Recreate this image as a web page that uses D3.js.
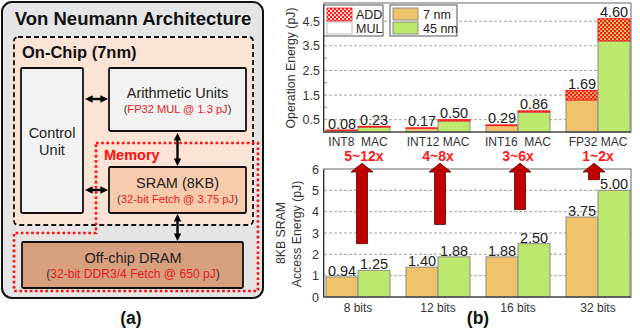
<!DOCTYPE html>
<html><head><meta charset="utf-8">
<script src="https://cdn.jsdelivr.net/npm/d3@7"></script>
<style>html,body{margin:0;padding:0;background:#fff;} svg{display:block;}</style>
</head><body>
<script>
// ---------- data ----------
const opCats = ["INT8  MAC", "INT12 MAC", "INT16  MAC", "FP32 MAC"];
const seriesNames = ["7 nm", "45 nm"];
const op7Total = [0.08, 0.17, 0.29, 1.69];
const op45Total = [0.23, 0.50, 0.86, 4.60];
const op7Add = [0.01, 0.02, 0.03, 0.39];
const op45Add = [0.03, 0.05, 0.05, 0.90];
const gainLabels = ["5~12x", "4~8x", "3~6x", "1~2x"];
const memCats = ["8 bits", "12 bits", "16 bits", "32 bits"];
const mem7 = [0.94, 1.40, 1.88, 3.75];
const mem45 = [1.25, 1.88, 2.50, 5.00];
const opTicks = [0.5, 1.5, 2.5, 3.5, 4.5];
const opMinorTicks = [1, 2, 3, 4, 5];
const memTicks = [0, 1, 2, 3, 4, 5, 6];
const memGrid = [1, 2, 3, 4, 5];
const arrowBase = [2.5, 3.4, 4.1, 5.5];

// ---------- setup ----------
const W = 640, H = 329;
const FONT = "'Liberation Sans', Arial, sans-serif";
const svg = d3.select("body").append("svg").attr("width", W).attr("height", H)
  .style("font-family", FONT);
const defs = svg.append("defs");
const C7 = "#efc36b", C45 = "#bde86e", RED = "#ff1a1a", TXTRED = "#e8191b";

function makePattern(id, bg) {
  const p = defs.append("pattern").attr("id", id).attr("width", 4).attr("height", 4)
    .attr("patternUnits", "userSpaceOnUse");
  p.append("rect").attr("width", 4).attr("height", 4).attr("fill", RED);
  p.append("rect").attr("x", 0.2).attr("y", 0.2).attr("width", 1.8).attr("height", 1.8).attr("fill", bg);
  p.append("rect").attr("x", 2.2).attr("y", 2.2).attr("width", 1.8).attr("height", 1.8).attr("fill", bg);
}
makePattern("addW", "#ffffff");
makePattern("add7", C7);
makePattern("add45", C45);
const arrowDefs = defs.append("marker").attr("id", "ah").attr("viewBox", "0 0 10 10")
  .attr("refX", 6).attr("refY", 5).attr("markerWidth", 3.2).attr("markerHeight", 3.2)
  .attr("orient", "auto-start-reverse").attr("markerUnits", "strokeWidth");
arrowDefs.append("path").attr("d", "M0,0 L10,5 L0,10 z").attr("fill", "#000");

// ---------- (a) diagram ----------
const A = svg.append("g");
A.append("rect").attr("x", 2).attr("y", 2).attr("width", 261).attr("height", 296).attr("rx", 10)
  .attr("fill", "#e5e5e5").attr("stroke", "#111").attr("stroke-width", 2);
A.append("text").attr("x", 133).attr("y", 25).attr("text-anchor", "middle")
  .attr("font-size", 18.5).attr("font-weight", "bold").attr("fill", "#111").text("Von Neumann Architecture");
A.append("rect").attr("x", 14).attr("y", 37).attr("width", 239).attr("height", 188).attr("rx", 4)
  .attr("fill", "#fbe3d6").attr("stroke", "#111").attr("stroke-width", 1.8).attr("stroke-dasharray", "5,3");
A.append("text").attr("x", 22).attr("y", 58).attr("font-size", 16.5).attr("font-weight", "bold")
  .attr("fill", "#111").text("On-Chip (7nm)");
// Control unit
A.append("rect").attr("x", 21).attr("y", 68).attr("width", 62).attr("height", 145).attr("rx", 1.5)
  .attr("fill", "#f2f2f2").attr("stroke", "#111").attr("stroke-width", 1.8);
A.append("text").attr("x", 52).attr("y", 138).attr("text-anchor", "middle").attr("font-size", 14.5).attr("fill", "#222").text("Control");
A.append("text").attr("x", 52).attr("y", 155).attr("text-anchor", "middle").attr("font-size", 14.5).attr("fill", "#222").text("Unit");
// Arithmetic units
A.append("rect").attr("x", 109).attr("y", 68).attr("width", 137).attr("height", 63).attr("rx", 1.5)
  .attr("fill", "#f2f2f2").attr("stroke", "#111").attr("stroke-width", 1.8);
A.append("text").attr("x", 177.5).attr("y", 98).attr("text-anchor", "middle").attr("font-size", 14.5).attr("fill", "#222").text("Arithmetic Units");
function redLine(x, y, size, inner) {
  const t = A.append("text").attr("x", x).attr("y", y).attr("text-anchor", "middle").attr("font-size", size).attr("fill", "#333");
  t.append("tspan").text("(");
  t.append("tspan").attr("fill", TXTRED).text(inner);
  t.append("tspan").text(")");
}
redLine(177.5, 112.5, 11.1, "FP32 MUL @ 1.3 pJ");
// memory dotted region
A.append("path").attr("d", "M96,143 L258,143 L258,291 L14,291 L14,233 L96,233 Z")
  .attr("fill", "none").attr("stroke", "#ff1010").attr("stroke-width", 2.6).attr("stroke-dasharray", "2.6,2.6");
A.append("text").attr("x", 104).attr("y", 160).attr("font-size", 14.5).attr("font-weight", "bold").attr("fill", "#ff1010").text("Memory");
// SRAM
A.append("rect").attr("x", 109).attr("y", 167).attr("width", 137).attr("height", 46).attr("rx", 1.5)
  .attr("fill", "#f8cbad").attr("stroke", "#111").attr("stroke-width", 1.8);
A.append("text").attr("x", 177.5).attr("y", 188).attr("text-anchor", "middle").attr("font-size", 14.5).attr("fill", "#222").text("SRAM (8KB)");
redLine(177.5, 202.5, 11.2, "32-bit Fetch @ 3.75 pJ");
// DRAM
A.append("rect").attr("x", 22).attr("y", 242).attr("width", 221).attr("height", 46).attr("rx", 1.5)
  .attr("fill", "#d6a07e").attr("stroke", "#111").attr("stroke-width", 1.8);
A.append("text").attr("x", 133).attr("y", 263).attr("text-anchor", "middle").attr("font-size", 14.5).attr("fill", "#222").text("Off-chip DRAM");
redLine(133, 278, 12.1, "32-bit DDR3/4 Fetch @ 650 pJ");
// double arrows
function dArrow(x1, y1, x2, y2) {
  A.append("line").attr("x1", x1).attr("y1", y1).attr("x2", x2).attr("y2", y2)
    .attr("stroke", "#000").attr("stroke-width", 2.4)
    .attr("marker-start", "url(#ah)").attr("marker-end", "url(#ah)");
}
dArrow(88, 99, 105, 99);
dArrow(88, 190, 105, 190);
dArrow(177.5, 136, 177.5, 163);
dArrow(177.5, 217, 177.5, 238);
svg.append("text").attr("x", 131).attr("y", 324).attr("text-anchor", "middle").attr("font-size", 17.5)
  .attr("font-weight", "bold").attr("fill", "#111").text("(a)");

// ---------- (b) top chart: operation energy ----------
const L = 324, R = 631;
const xg = d3.scaleBand().domain(opCats).range([L, R + 1]).paddingInner(0.2).paddingOuter(0.025);
const xs = d3.scaleBand().domain(seriesNames).range([0, xg.bandwidth()]);
const yT = d3.scaleLinear().domain([0, 5.2]).range([132, 4]);
const T = svg.append("g");
// grid
T.selectAll("line.grid").data(opTicks).join("line").attr("class", "grid")
  .attr("x1", L).attr("x2", R).attr("y1", d => yT(d)).attr("y2", d => yT(d))
  .attr("stroke", "#a0a0a0").attr("stroke-width", 1).attr("stroke-dasharray", "3,2");
T.selectAll("line.minor").data(opMinorTicks).join("line").attr("class", "minor")
  .attr("x1", L).attr("x2", L + 3).attr("y1", d => yT(d)).attr("y2", d => yT(d))
  .attr("stroke", "#888");
// bars
const topRows = [];
opCats.forEach((c, i) => {
  topRows.push({ c, s: "7 nm", total: op7Total[i], add: op7Add[i], col: C7, pat: "add7" });
  topRows.push({ c, s: "45 nm", total: op45Total[i], add: op45Add[i], col: C45, pat: "add45" });
});
const tb = T.selectAll("g.bar").data(topRows).join("g").attr("class", "bar")
  .attr("transform", d => `translate(${xg(d.c) + xs(d.s)},0)`);
tb.append("rect").attr("width", xs.bandwidth()).attr("y", d => yT(d.total - d.add))
  .attr("height", d => yT(0) - yT(d.total - d.add)).attr("fill", d => d.col)
  .attr("stroke", "#8c8c8c").attr("stroke-width", 1);
tb.append("rect").attr("width", xs.bandwidth()).attr("y", d => yT(d.total))
  .attr("height", d => yT(d.total - d.add) - yT(d.total)).attr("fill", d => `url(#${d.pat})`)
  .attr("stroke", RED).attr("stroke-width", 1);
tb.append("text").attr("x", xs.bandwidth() / 2).attr("y", d => yT(d.total) - 1.5)
  .attr("text-anchor", "middle").attr("font-size", 14.5).attr("fill", "#222")
  .text(d => d.total.toFixed(2));
// frame + axes
T.append("rect").attr("x", L).attr("y", 3).attr("width", R - L).attr("height", 129)
  .attr("fill", "none").attr("stroke", "#666").attr("stroke-width", 1);
T.append("line").attr("x1", L).attr("x2", R).attr("y1", 132).attr("y2", 132).attr("stroke", "#333");
const yAxT = T.append("g").attr("transform", `translate(${L - 1},0)`)
  .call(d3.axisLeft(yT).tickValues(opTicks).tickSize(0).tickPadding(3).tickFormat(d3.format(".1f")));
yAxT.select(".domain").attr("stroke", "#333");
yAxT.selectAll("text").attr("font-size", 12.5).attr("font-family", FONT).attr("fill", "#333");
T.append("text").attr("transform", "translate(295,68) rotate(-90)").attr("text-anchor", "middle")
  .attr("font-size", 12.3).attr("fill", "#333").text("Operation Energy (pJ)");
T.selectAll("text.cat").data(opCats).join("text").attr("class", "cat")
  .attr("x", d => xg(d) + xg.bandwidth() / 2).attr("y", 146).attr("text-anchor", "middle")
  .attr("font-size", 12).attr("fill", "#333").style("white-space", "pre").text(d => d);
T.selectAll("text.gain").data(opCats).join("text").attr("class", "gain")
  .attr("x", d => xg(d) + xg.bandwidth() / 2 + (d === opCats[0] ? 6 : 0)).attr("y", 161)
  .attr("text-anchor", "middle").attr("font-size", 14).attr("font-weight", "bold").attr("fill", RED)
  .text((d, i) => gainLabels[i]);
// legends
const lg1 = T.append("g");
lg1.append("rect").attr("x", 324).attr("y", 5).attr("width", 59).attr("height", 31).attr("fill", "#fff").attr("stroke", "#555");
lg1.append("rect").attr("x", 327).attr("y", 8).attr("width", 25).attr("height", 13).attr("fill", "url(#addW)").attr("stroke", RED).attr("stroke-width", 0.8);
lg1.append("rect").attr("x", 327).attr("y", 22).attr("width", 25).attr("height", 12).attr("fill", "#fff").attr("stroke", "#aaa").attr("stroke-width", 0.8);
lg1.append("text").attr("x", 356).attr("y", 19).attr("font-size", 12.5).attr("fill", "#222").text("ADD");
lg1.append("text").attr("x", 356).attr("y", 33).attr("font-size", 12.5).attr("fill", "#222").text("MUL");
const lg2 = T.append("g");
lg2.append("rect").attr("x", 390).attr("y", 5).attr("width", 67).attr("height", 31).attr("fill", "#fff").attr("stroke", "#555");
seriesNames.forEach((s, i) => {
  lg2.append("rect").attr("x", 393).attr("y", 8 + i * 14).attr("width", 25).attr("height", 12)
    .attr("fill", i === 0 ? C7 : C45).attr("stroke", "#8c8c8c");
  lg2.append("text").attr("x", 423).attr("y", 19 + i * 14).attr("font-size", 12.5).attr("fill", "#222").text(s);
});

// ---------- (b) bottom chart: SRAM access energy ----------
const xgB = d3.scaleBand().domain(memCats).range([L, R + 1]).paddingInner(0.2).paddingOuter(0.025);
const yB = d3.scaleLinear().domain([0, 6]).range([297, 169]);
const B = svg.append("g");
B.selectAll("line.grid").data(memGrid).join("line").attr("class", "grid")
  .attr("x1", L).attr("x2", R).attr("y1", d => yB(d)).attr("y2", d => yB(d))
  .attr("stroke", "#a0a0a0").attr("stroke-dasharray", "3,2");
const botRows = [];
memCats.forEach((c, i) => {
  botRows.push({ c, s: "7 nm", v: mem7[i], col: C7 });
  botRows.push({ c, s: "45 nm", v: mem45[i], col: C45 });
});
const bb = B.selectAll("g.bar").data(botRows).join("g").attr("class", "bar")
  .attr("transform", d => `translate(${xgB(d.c) + xs(d.s)},0)`);
bb.append("rect").attr("width", xs.bandwidth()).attr("y", d => yB(d.v))
  .attr("height", d => yB(0) - yB(d.v)).attr("fill", d => d.col).attr("stroke", "#8c8c8c");
bb.append("text").attr("x", xs.bandwidth() / 2).attr("y", d => yB(d.v) - 1)
  .attr("text-anchor", "middle").attr("font-size", 14.5).attr("fill", "#222").text(d => d.v.toFixed(2));
B.append("rect").attr("x", L).attr("y", 169).attr("width", R - L).attr("height", 128)
  .attr("fill", "none").attr("stroke", "#666");
B.append("line").attr("x1", L).attr("x2", R).attr("y1", 297).attr("y2", 297).attr("stroke", "#333");
const yAxB = B.append("g").attr("transform", `translate(${L - 1},0)`)
  .call(d3.axisLeft(yB).tickValues(memTicks).tickSize(0).tickPadding(4).tickFormat(d3.format("d")));
yAxB.select(".domain").attr("stroke", "#333");
yAxB.selectAll("text").attr("font-size", 12.5).attr("font-family", FONT).attr("fill", "#333");
B.append("text").attr("transform", "translate(285,233) rotate(-90)").attr("text-anchor", "middle")
  .attr("font-size", 12.3).attr("fill", "#333").text("8KB SRAM");
B.append("text").attr("transform", "translate(301,234) rotate(-90)").attr("text-anchor", "middle")
  .attr("font-size", 12.3).attr("fill", "#333").text("Access Energy (pJ)");
B.selectAll("text.cat").data(memCats).join("text").attr("class", "cat")
  .attr("x", d => xgB(d) + xgB.bandwidth() / 2).attr("y", 312).attr("text-anchor", "middle")
  .attr("font-size", 12).attr("fill", "#333").text(d => d);
// red arrows
B.selectAll("path.arrow").data(memCats).join("path").attr("class", "arrow")
  .attr("d", (d, i) => {
    const cx = xgB(d) + xgB.bandwidth() / 2 + (i === 0 ? 4 : (i === 3 ? -4 : 2));
    const tip = yB(6.27), hb = yB(5.86), bot = yB(arrowBase[i]);
    return `M${cx},${tip} L${cx + 11},${hb} L${cx + 5.5},${hb} L${cx + 5.5},${bot} L${cx - 5.5},${bot} L${cx - 5.5},${hb} L${cx - 11},${hb} Z`;
  })
  .attr("fill", "#c00000").attr("stroke", "#5a0000").attr("stroke-width", 0.8);
svg.append("text").attr("x", 478).attr("y", 324).attr("text-anchor", "middle").attr("font-size", 17.5)
  .attr("font-weight", "bold").attr("fill", "#111").text("(b)");
</script>
</body></html>
